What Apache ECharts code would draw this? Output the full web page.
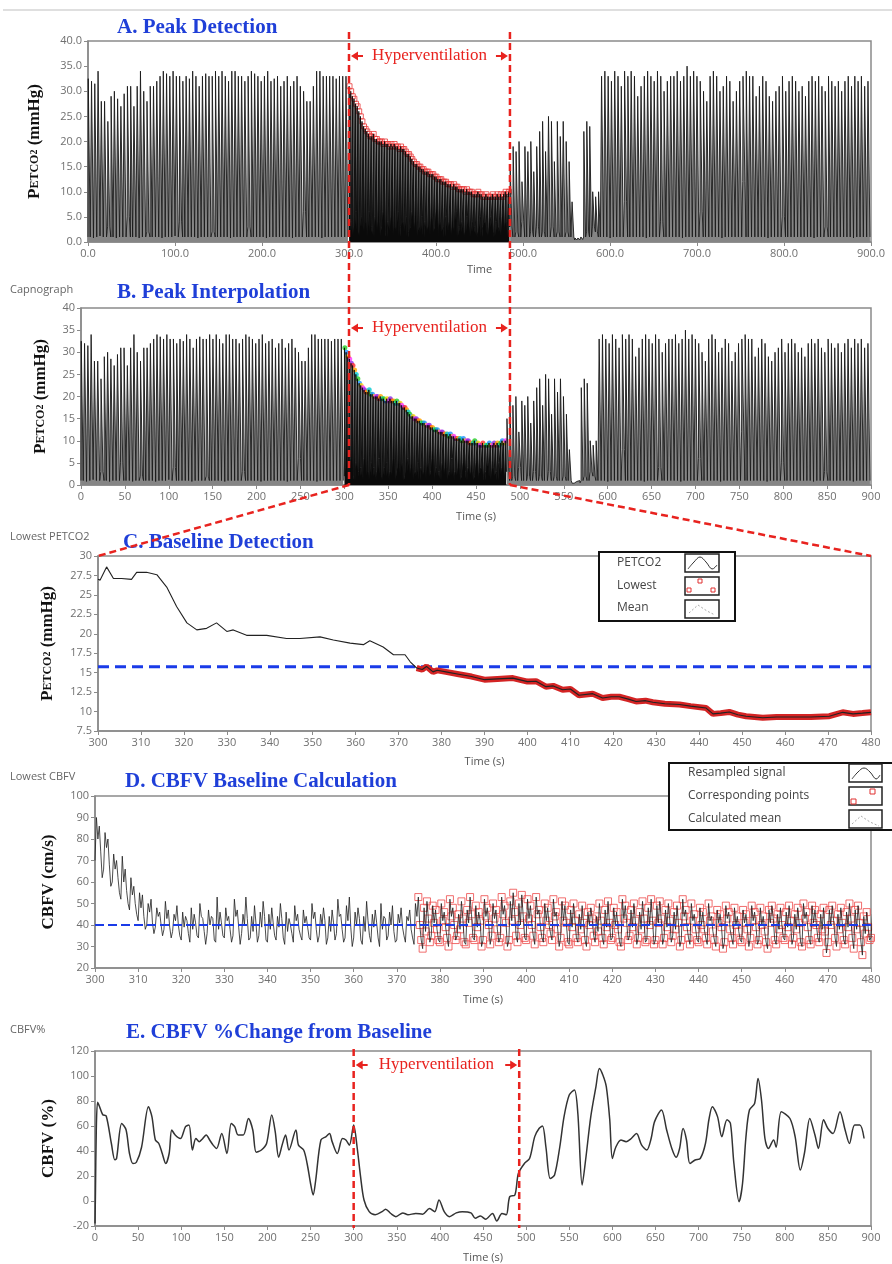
<!DOCTYPE html>
<html><head><meta charset="utf-8">
<script src="https://cdn.jsdelivr.net/npm/echarts@6/dist/echarts.min.js"></script>
<style>html,body{margin:0;padding:0;background:#fff}#c{width:892px;height:1264px}</style>
</head><body><div id="c"></div>
<script>
// ---------------- DATA ----------------
const hyperStart = 300, hyperEnd = 485, hyperEndE = 492;
const capPhaseBounds = [0, 300, 485, 590, 900];
// breath peak / trough values (mmHg) for each phase
const prePeaks = [32.5,32,31.5,34,28,28,24,29,30,28.5,27,29.5,31,31,27,31,34,30,28,31,
 31,32,33,34,33.5,33,34,33,33,32,33,32.5,34,33,31,33,33.5,33,33,34,
 33,34,33,32,34,34,33,33,32,33,34,33.5,33,32,33,34,32,32.5,33,31,
 32,33,31,32,33,31,30,28,28,31,34,34,33,33,33,33,32.5,33,33,33];
const preTroughs = [1,0.8,1,1.2,1,1,3,1,0.8,1,1,1,5,1,1,0.8,1,1,2,1,
 1,1,0.8,1,1,1,1.2,1,4,1,1,1,1,0.8,1,1,1,1,2,1,
 1,1,1,0.8,1,1,1,1,1,3,1,1,1,1,0.8,1,1,1,1,1,
 1,1,0.8,1,1,1,6,1,1,1,1,0.8,1,1,1,1,1,1,1,1];
const hyperPeaks = [31,30,29,28.5,27.5,27,26,25,24,23,
 22.5,22,21.5,21,21,21.5,20.5,20.5,20,20,
 20,19.5,20,19.5,19.5,19,19.5,19,19.5,19,
 19,18.5,19,18.5,18.5,18,17.5,17.5,17,16.5,
 16,15.5,15.5,15,15,14.5,14.5,14,14,14,
 13.5,13.5,13.5,13,13,12.5,12.5,12.5,12,12,
 12,11.5,11.5,11.5,11,11.5,11,11,10.5,10.5,
 10.5,10.5,10,10.5,10,10,10,9.5,9.5,9.5,
 10,9.5,9.5,9,9,9.5,9,9,9,9.5,
 9,9,9.5,9,9.5,9,9.5,10,9.5,10];
const hyperTroughs = [2,4,1,3,6,2,1,5,3,2, 4,1,6,2,3,1,5,2,4,1, 3,6,2,1,4,2,5,1,3,2,
 6,1,3,4,2,5,1,2,3,6, 2,4,1,3,2,5,1,4,2,3, 1,5,2,3,6,1,4,2,3,1,
 5,2,4,1,3,2,6,1,3,2, 4,1,2,5,3,1,4,2,3,1, 2,5,1,3,4,2,1,3,5,2, 1,4,2,3,1,5,2,4,1,3];
const recovPeaks = [15,19,18,20,12,19,18,20,14,19, 22,24,18,25,24,16,24,21,24,20, 16,8, 0.8,0.8,1, 22,24,23, 10,9,10];
const recovTroughs = [3,1,2,1,4,1,1,2,1,3, 1,2,1,1,3,1,2,1,1,2, 1,1, 0.4,0.4,0.5, 1,2,1, 3,2,1];
const postPeaks = [33,34,33,32,34,33,31,34,33,34,33,29,31,33,34,33,32,34,33,30,
 32,33,33,34,32,33,35,33,34,33,32,30,28,33,34,33,30,31,33,32,
 28,30,32,33,34,33,33,29,31,33,32,29,28,30,31,33,30,32,33,32,
 30,31,29,32,33,32,33,31,30,33,32,31,32,30,32,33,31,33,32,33,31,32];
const postTroughs = [1,1,0.8,1,1,1,1,8,1,1,1,1,1,0.8,1,1,1,1,4,1,
 1,1,1,1,0.8,1,1,1,1,1,6,1,1,1,1,1,0.8,1,1,1,
 1,1,1,12,1,1,1,1,1,1,0.8,1,1,1,1,5,1,1,1,1,
 1,1,1,1,0.8,1,1,1,3,1,1,1,1,1,1,1,0.8,1,1,1,1,1];

// C: interpolated PETCO2 envelope (black) and lowest part (red)
const cTime = [300,300.5,302,303.6,305.5,307.8,309,311.3,313.7,316,318.3,320.7,323,325.3,327.6,330,331.5,334.6,339.3,343.9,347,351.7,354.8,358.7,361.8,363.3,366.4,368.8,371.5,372.7];
const cPetco2 = [27,26.9,28.6,27.1,27.1,27,27.9,27.9,27.6,26,23.5,21.4,20.5,20.7,21.4,20.3,20.5,19.8,19.8,19.4,19.4,19.6,19.2,18.8,18.6,19.1,18.3,17.3,17.3,16.4];
const cLowTime = [374.2,375.5,376.5,378,379,381,384,387,390,393,396.6,400,402,404.3,406,408.2,410,412,415.2,417.5,419.5,421.4,423.5,425.3,427.5,429.2,432,435.4,438,441.6,443.2,445,447,449,450.9,454.8,458,462.6,466,470.3,473.4,475.8,478,480];
const cLowVal = [15.6,15.4,15.8,15.1,15.3,15.1,14.8,14.5,14.1,14.2,14.3,13.85,13.9,13.2,13.3,12.8,12.9,12.1,12.3,11.75,11.9,11.9,11.6,11.3,11.4,11.2,11.0,10.9,10.7,10.45,9.7,9.8,9.95,9.6,9.4,9.2,9.3,9.3,9.3,9.4,9.9,9.7,9.8,9.9];
const petco2Mean = 15.75;

// D: resampled CBFV, per-second low / mid / high (300..480 s)
const dHigh = [90,86,83,80,73,70,72,66,62,58, 55,54,50,52,48,46,51,47,45,49,
 46,44,48,45,50,43,47,44,53,46, 48,44,52,47,45,53,44,49,46,51,
 45,48,44,50,46,43,49,45,47,44, 50,46,45,48,44,47,52,45,49,53,
 46,48,44,51,45,47,50,44,46,49, 45,48,44,47,50,53,48,51,49,47,
 50,46,52,48,45,51,47,53,49,46, 52,48,50,47,53,49,51,55,50,54,
 52,49,53,47,50,48,52,46,51,49, 47,50,45,49,46,48,44,50,47,51,
 48,46,52,49,47,50,46,51,48,52, 49,51,47,50,46,49,52,47,50,45,
 48,46,50,44,47,45,49,46,48,44, 47,45,49,46,48,44,47,49,45,48,
 46,49,45,48,50,46,49,47,45,48, 47,49,45,48,46,50,47,49,44,46, 45];
const dMid = [80,74,76,68,66,62,60,56,54,50, 48,44,46,41,44,40,43,39,42,40,
 39,42,38,41,44,37,40,43,38,41, 42,38,44,39,40,43,37,41,39,44,
 38,41,39,43,37,40,42,38,41,39, 43,38,40,42,37,41,44,38,42,39,
 40,43,37,42,39,41,38,43,40,37, 41,39,42,38,44,40,37,43,41,38,
 42,39,44,40,38,43,41,45,39,42, 44,40,43,38,45,41,42,46,40,44,
 43,40,45,39,42,40,44,38,42,41, 39,42,38,41,40,43,37,42,39,41,
 40,38,43,41,39,42,38,43,40,42, 41,43,39,42,38,41,44,39,42,38,
 40,38,42,37,41,39,43,38,40,37, 41,38,42,39,40,37,41,43,38,40,
 39,42,38,41,43,39,41,40,38,37, 40,42,38,41,39,43,38,41,36,39, 40];
const dLow = [70,62,66,58,60,55,52,50,47,45, 42,38,40,36,39,35,38,34,37,35,
 33,36,32,35,34,31,36,33,32,35, 34,32,35,31,36,33,34,32,35,33,
 32,35,33,34,31,36,32,35,33,34, 33,32,35,31,34,33,36,32,34,30,
 34,33,31,35,32,34,30,33,35,32, 33,35,32,34,31,33,29,32,35,33,
 32,34,30,33,35,32,31,34,33,30, 33,31,35,32,34,30,33,35,32,34,
 33,35,31,34,32,36,33,30,34,32, 31,34,32,33,30,35,32,34,31,33,
 34,32,30,33,35,31,34,32,33,31, 33,31,34,32,35,30,33,34,31,33,
 32,34,31,33,30,29,32,34,31,33, 32,30,34,31,33,32,29,33,31,34,
 33,31,34,32,30,33,31,34,32,27, 32,34,30,33,31,34,29,32,26,33, 34];
const cbfvMean = 40;
const cbfvPointsFrom = 375;

// E: CBFV % change from baseline [time s, %]
const cbfvPct = [[0,-18],[0.5,5],[1.5,57],[3,79],[5,76],[9,69],[13,68],[19,46],[23,33],[25,34],[31,62],[36,57],[40,38],[44,30],[48,31],[54,43],[62,75.5],[66,67.5],[70,48.8],[74,46],[78,38],[82,30],[86,38],[89,56.8],[93,52.8],[99,50],[105,59.5],[109,60.8],[113,40.8],[117,50],[121,47.5],[125,50],[129,52.8],[133,48.8],[137,44.7],[141,42],[147,54],[153,38],[158,62],[162,59.5],[166,52.8],[172,52.8],[178,66],[183,56.8],[187,39],[193,40.8],[199,46],[205,68.8],[209,55.5],[213,35],[217,44.7],[221,52.8],[225,40.8],[233,56.8],[236,44.7],[242,40.8],[246,30],[250,14],[253,4.8],[256,16.8],[262,48.8],[268,51.5],[272,54],[275,47.5],[281,38],[287,50],[291,48.8],[295,44.7],[300,60.8],[304,43],[308,19.5],[312,0.8],[318,-8.5],[325,-11],[333,-8.5],[337,-6.5],[343,-10],[349,-12.5],[357,-9.5],[363,-11],[372,-10],[380,-10.5],[388,-6],[394,-8.5],[399,0.8],[405,-8.5],[411,-12.5],[419,-9.5],[426,-8.5],[436,-9.5],[441,-13.8],[447,-12],[453,-14.6],[461,-10],[466,-16],[472,-10],[477,-11],[481,3.5],[487,4.8],[491,22],[498,30],[504,34],[510,51.5],[515,58],[519,60],[523,43],[528,18],[533,20.8],[539,43],[544,67.5],[550,84.8],[556,88.8],[560,70],[565,12.8],[569,32.8],[575,67.5],[581,91.5],[585,106],[589,100.8],[593,91.5],[597,65],[600,34],[604,43],[610,48.8],[616,47.5],[622,50],[628,54],[634,44.7],[640,40.8],[645,50],[649,63.5],[657,72.8],[663,56.8],[669,42],[674,35],[678,42],[682,58],[686,48.8],[690,30],[696,32.8],[702,34],[708,46],[712,65],[716,75.5],[722,67.5],[727,51.5],[733,65],[737,62],[741,30],[747,-0.5],[751,14],[755,51.5],[759,72.8],[765,78],[769,98],[773,80.8],[777,50],[781,42],[787,48.8],[790,43],[796,71.5],[806,66],[812,51.5],[818,24.8],[823,39],[829,66],[835,52.8],[839,42],[845,65],[850,58],[856,54],[864,71.5],[870,56.8],[875,46],[881,60.8],[887,60.8],[892,50]];

const rainbow = ['#22cc22','#1e90ff','#f5d000','#ff33ff','#8a2be2','#ff3030','#ffa500','#00c8d0'];

// ---------------- BUILD ----------------
const capNormal = [], capHyper = [], hyperPeakPts = [];
function breaths(out, t0, t1, peaks, troughs, pk) {
  const n = peaks.length, p = (t1 - t0) / n;
  for (let i = 0; i < n; i++) {
    const s = t0 + i * p;
    out.push([s, troughs[i]], [s + 0.08 * p, peaks[i]], [s + 0.58 * p, peaks[i]], [s + 0.68 * p, troughs[i]]);
    if (pk) pk.push([s + 0.33 * p, peaks[i]]);
  }
}
breaths(capNormal, capPhaseBounds[0], capPhaseBounds[1], prePeaks, preTroughs);
capNormal.push([capPhaseBounds[1], null]);
breaths(capHyper, capPhaseBounds[1], capPhaseBounds[2], hyperPeaks, hyperTroughs, hyperPeakPts);
breaths(capNormal, capPhaseBounds[2], capPhaseBounds[3], recovPeaks, recovTroughs);
breaths(capNormal, capPhaseBounds[3], capPhaseBounds[4], postPeaks, postTroughs);

const cBlack = cTime.map((t, i) => [t, cPetco2[i]]).concat(cLowTime.map((t, i) => [t, cLowVal[i]]));
const cRed = cLowTime.map((t, i) => [t, cLowVal[i]]);

const dLine = [], dPts = [];
for (let i = 0; i < dHigh.length; i++) {
  const t = 300 + i;
  const trio = i % 2 === 0
    ? [[t, dLow[i]], [t + 0.33, dHigh[i]], [t + 0.67, dMid[i]]]
    : [[t, dHigh[i]], [t + 0.33, dMid[i]], [t + 0.67, dLow[i]]];
  dLine.push(...trio);
  if (t >= cbfvPointsFrom) dPts.push(...trio);
}

// ---------------- CHART ----------------
const SANS = '"Open Sans", "DejaVu Sans", sans-serif';
const SERIF = '"Liberation Serif", "DejaVu Serif", serif';
const tickStyle = { color: '#707070', fontSize: 11, fontFamily: SANS };
const petName = '{p|P}{s|ETCO}{n|2}{p| (mmHg)}';
const petRich = {
  p: { fontFamily: SERIF, fontWeight: 'bold', fontSize: 17, color: '#111' },
  s: { fontFamily: SERIF, fontWeight: 'bold', fontSize: 12, color: '#111' },
  n: { fontFamily: SERIF, fontWeight: 'bold', fontSize: 10, color: '#111' }
};
function xAx(gi, min, max, interval, fmt, name, gap) {
  return { gridIndex: gi, type: 'value', min, max, interval, name, nameLocation: 'middle', nameGap: gap,
    nameTextStyle: { color: '#555', fontSize: 11, fontFamily: SANS },
    axisLine: { show: true, onZero: false, lineStyle: { color: '#8a8a8a', width: 1.5 } },
    axisTick: { show: true, length: 4, lineStyle: { color: '#8a8a8a' } },
    axisLabel: Object.assign({ margin: 6, formatter: fmt }, tickStyle),
    splitLine: { show: false } };
}
function yAx(gi, min, max, interval, fmt, name, gap, rich) {
  return { gridIndex: gi, type: 'value', min, max, interval, name, nameLocation: 'middle', nameGap: gap,
    nameRotate: 90,
    nameTextStyle: rich ? { rich } : { fontFamily: SERIF, fontWeight: 'bold', fontSize: 17, color: '#111' },
    axisLine: { show: true, onZero: false, lineStyle: { color: '#8a8a8a', width: 1.5 } },
    axisTick: { show: true, length: 4, lineStyle: { color: '#8a8a8a' } },
    axisLabel: Object.assign({ margin: 6, formatter: fmt }, tickStyle),
    splitLine: { show: false } };
}
const f1 = v => v.toFixed(1);
const fg = v => String(v);
const gridBase = { show: true, borderColor: '#8a8a8a', borderWidth: 1.5, backgroundColor: 'transparent' };
const capNormalStyle = { lineStyle: { color: '#1a1a1a', width: 0.9 }, areaStyle: { color: '#858585', opacity: 1 } };
const capHyperStyle = { lineStyle: { color: '#0a0a0a', width: 0.9 }, areaStyle: { color: '#0a0a0a', opacity: 1 } };

const chart = echarts.init(document.getElementById('c'), null, { renderer: 'canvas' });
chart.setOption({
  animation: false,
  backgroundColor: '#fff',
  grid: [
    Object.assign({ left: 88, top: 41, width: 783, height: 201 }, gridBase),
    Object.assign({ left: 81, top: 308, width: 790, height: 177 }, gridBase),
    Object.assign({ left: 98, top: 556, width: 773, height: 175 }, gridBase),
    Object.assign({ left: 95, top: 796, width: 776, height: 172 }, gridBase),
    Object.assign({ left: 95, top: 1051, width: 776, height: 175 }, gridBase)
  ],
  xAxis: [
    xAx(0, 0, 900, 100, f1, 'Time', 22),
    xAx(1, 0, 900, 50, fg, 'Time (s)', 26),
    xAx(2, 300, 480, 10, fg, 'Time (s)', 25),
    xAx(3, 300, 480, 10, fg, 'Time (s)', 26),
    xAx(4, 0, 900, 50, fg, 'Time (s)', 26)
  ],
  yAxis: [
    yAx(0, 0, 40, 5, f1, petName, 45, petRich),
    yAx(1, 0, 40, 5, fg, petName, 32, petRich),
    yAx(2, 7.5, 30, 2.5, fg, petName, 42, petRich),
    yAx(3, 20, 100, 10, fg, 'CBFV (cm/s)', 38),
    yAx(4, -20, 120, 20, fg, 'CBFV (%)', 38)
  ],
  series: [
    Object.assign({ type: 'line', xAxisIndex: 0, yAxisIndex: 0, data: capNormal, showSymbol: false, silent: true, connectNulls: false }, capNormalStyle),
    Object.assign({ type: 'line', xAxisIndex: 0, yAxisIndex: 0, data: capHyper, showSymbol: false, silent: true }, capHyperStyle),
    { type: 'scatter', xAxisIndex: 0, yAxisIndex: 0, data: hyperPeakPts, symbol: 'rect', symbolSize: 5, silent: true,
      itemStyle: { color: 'rgba(255,255,255,0)', borderColor: '#e83a3a', borderWidth: 1 } },
    Object.assign({ type: 'line', xAxisIndex: 1, yAxisIndex: 1, data: capNormal, showSymbol: false, silent: true, connectNulls: false }, capNormalStyle),
    Object.assign({ type: 'line', xAxisIndex: 1, yAxisIndex: 1, data: capHyper, showSymbol: false, silent: true }, capHyperStyle),
    { type: 'scatter', xAxisIndex: 1, yAxisIndex: 1, data: hyperPeakPts, symbolSize: 5, silent: true,
      itemStyle: { color: p => rainbow[p.dataIndex % rainbow.length] } },
    { type: 'line', xAxisIndex: 2, yAxisIndex: 2, data: [[300, petco2Mean], [480, petco2Mean]], showSymbol: false, silent: true,
      lineStyle: { color: '#1a3be8', width: 3, type: [11, 6] }, z: 3 },
    { type: 'line', xAxisIndex: 2, yAxisIndex: 2, data: cRed, showSymbol: false, silent: true,
      lineStyle: { color: '#d42424', width: 6 }, z: 4 },
    { type: 'line', xAxisIndex: 2, yAxisIndex: 2, data: cBlack, showSymbol: false, silent: true,
      lineStyle: { color: '#222', width: 1.1 }, z: 5 },
    { type: 'scatter', xAxisIndex: 3, yAxisIndex: 3, data: dPts, symbol: 'rect', symbolSize: 7, silent: true,
      itemStyle: { color: 'rgba(255,255,255,0)', borderColor: '#ee4a4a', borderWidth: 1 }, z: 2 },
    { type: 'line', xAxisIndex: 3, yAxisIndex: 3, data: dLine, showSymbol: false, silent: true,
      lineStyle: { color: '#1e1e1e', width: 0.8 }, z: 3 },
    { type: 'line', xAxisIndex: 3, yAxisIndex: 3, data: [[300, cbfvMean], [480, cbfvMean]], showSymbol: false, silent: true,
      lineStyle: { color: '#1a3be8', width: 2, type: [9, 4] }, z: 4 },
    { type: 'line', xAxisIndex: 4, yAxisIndex: 4, data: cbfvPct, showSymbol: false, silent: true, smooth: 0.3,
      lineStyle: { color: '#333', width: 1.5 } }
  ]
});

// ---------------- ANNOTATIONS ----------------
const px = (ax, v) => chart.convertToPixel({ xAxisIndex: ax }, v);
const py = (ax, v) => chart.convertToPixel({ yAxisIndex: ax }, v);
const RED = '#e8231f';
const dash = { stroke: RED, lineWidth: 2.5, lineDash: [7, 4] };
const g = [];
const txt = (x, y, text, font, fill, align) => ({ type: 'text', z: 100, style: { x, y, text, font, fill, textAlign: align || 'left', align: align || 'left', textVerticalAlign: 'middle', verticalAlign: 'middle' } });
const ln = (x1, y1, x2, y2, style) => ({ type: 'line', z: 100, shape: { x1, y1, x2, y2 }, style });

g.push(ln(3, 10, 892, 10, { stroke: '#d4d4d4', lineWidth: 1.5 }));
const TF = 'bold 21px ' + SERIF, TC = '#1f3fd8';
g.push(txt(117, 28, 'A. Peak Detection', TF, TC));
g.push(txt(117, 293, 'B. Peak Interpolation', TF, TC));
g.push(txt(123, 543, 'C. Baseline Detection', TF, TC));
g.push(txt(125, 782, 'D. CBFV Baseline Calculation', TF, TC));
g.push(txt(126, 1033, 'E. CBFV %Change from Baseline', TF, TC));
const SF = '11px ' + SANS, SC = '#666';
g.push(txt(10, 290, 'Capnograph', SF, SC));
g.push(txt(10, 537, 'Lowest PETCO2', SF, SC));
g.push(txt(10, 777, 'Lowest CBFV', SF, SC));
g.push(txt(10, 1030, 'CBFV%', SF, SC));

function hyperLabel(xL, xR, y) {
  g.push(txt((xL + xR) / 2, y, 'Hyperventilation', '17px ' + SERIF, RED, 'center'));
  g.push({ type: 'polygon', z: 100, shape: { points: [[xL + 2, y], [xL + 9, y - 4.5], [xL + 9, y + 4.5]] }, style: { fill: RED } });
  g.push(ln(xL + 8, y, xL + 14, y, { stroke: RED, lineWidth: 2 }));
  g.push({ type: 'polygon', z: 100, shape: { points: [[xR - 2, y], [xR - 9, y - 4.5], [xR - 9, y + 4.5]] }, style: { fill: RED } });
  g.push(ln(xR - 14, y, xR - 8, y, { stroke: RED, lineWidth: 2 }));
}
const aL = px(0, hyperStart), aR = px(0, hyperEnd);
const aTop = py(0, 40) - 9, bBot = py(1, 0);
g.push(ln(aL, aTop, aL, bBot, dash));
g.push(ln(aR, aTop, aR, bBot, dash));
g.push(ln(aL, bBot, px(2, 300), py(2, 30), dash));
g.push(ln(aR, bBot, px(2, 480), py(2, 30), dash));
hyperLabel(aL, aR, 56);
hyperLabel(aL, aR, 328);
const eL = px(4, hyperStart), eR = px(4, hyperEndE);
g.push(ln(eL, py(4, 120) - 2, eL, py(4, -20) + 2, dash));
g.push(ln(eR, py(4, 120) - 2, eR, py(4, -20) + 2, dash));
hyperLabel(eL, eR, 1065);

// Legend C
const LF = '12px ' + SANS, LC = '#444';
g.push({ type: 'rect', z: 100, shape: { x: 599, y: 552, width: 136, height: 69 }, style: { fill: '#fff', stroke: '#111', lineWidth: 2 } });
g.push(txt(617, 563, 'PETCO2', LF, LC));
g.push(txt(617, 586, 'Lowest', LF, LC));
g.push(txt(617, 608, 'Mean', LF, LC));
[554, 577, 600].forEach(y => g.push({ type: 'rect', z: 101, shape: { x: 685, y, width: 34, height: 18 }, style: { fill: '#fff', stroke: '#222', lineWidth: 1.5 } }));
g.push({ type: 'polyline', z: 102, shape: { points: [[688, 569], [694, 562], [700, 557], [706, 562], [712, 569], [717, 565]], smooth: 0.4 }, style: { stroke: '#333', lineWidth: 1, fill: null } });
[[689, 590], [700, 581], [713, 590]].forEach(p => g.push({ type: 'rect', z: 102, shape: { x: p[0] - 2, y: p[1] - 2, width: 4, height: 4 }, style: { fill: null, stroke: '#e03030', lineWidth: 1 } }));
g.push({ type: 'polyline', z: 102, shape: { points: [[689, 613], [698, 605], [707, 611], [715, 615]] }, style: { stroke: '#aaa', lineWidth: 1, lineDash: [2, 2], fill: null } });

// Legend D
g.push({ type: 'rect', z: 100, shape: { x: 669, y: 763, width: 240, height: 67 }, style: { fill: '#fff', stroke: '#111', lineWidth: 2 } });
g.push(txt(688, 773, 'Resampled signal', LF, LC));
g.push(txt(688, 796, 'Corresponding points', LF, LC));
g.push(txt(688, 819, 'Calculated mean', LF, LC));
[764, 787, 810].forEach(y => g.push({ type: 'rect', z: 101, shape: { x: 849, y, width: 33, height: 18 }, style: { fill: '#fff', stroke: '#222', lineWidth: 1.5 } }));
g.push({ type: 'polyline', z: 102, shape: { points: [[852, 779], [858, 772], [864, 768], [870, 772], [876, 779], [880, 775]], smooth: 0.4 }, style: { stroke: '#333', lineWidth: 1, fill: null } });
[[853, 801], [872, 791]].forEach(p => g.push({ type: 'rect', z: 102, shape: { x: p[0] - 2, y: p[1] - 2, width: 5, height: 5 }, style: { fill: null, stroke: '#e03030', lineWidth: 1 } }));
g.push({ type: 'polyline', z: 102, shape: { points: [[852, 824], [861, 816], [870, 822], [879, 826]] }, style: { stroke: '#aaa', lineWidth: 1, lineDash: [2, 2], fill: null } });

chart.setOption({ graphic: g });
</script></body></html>
